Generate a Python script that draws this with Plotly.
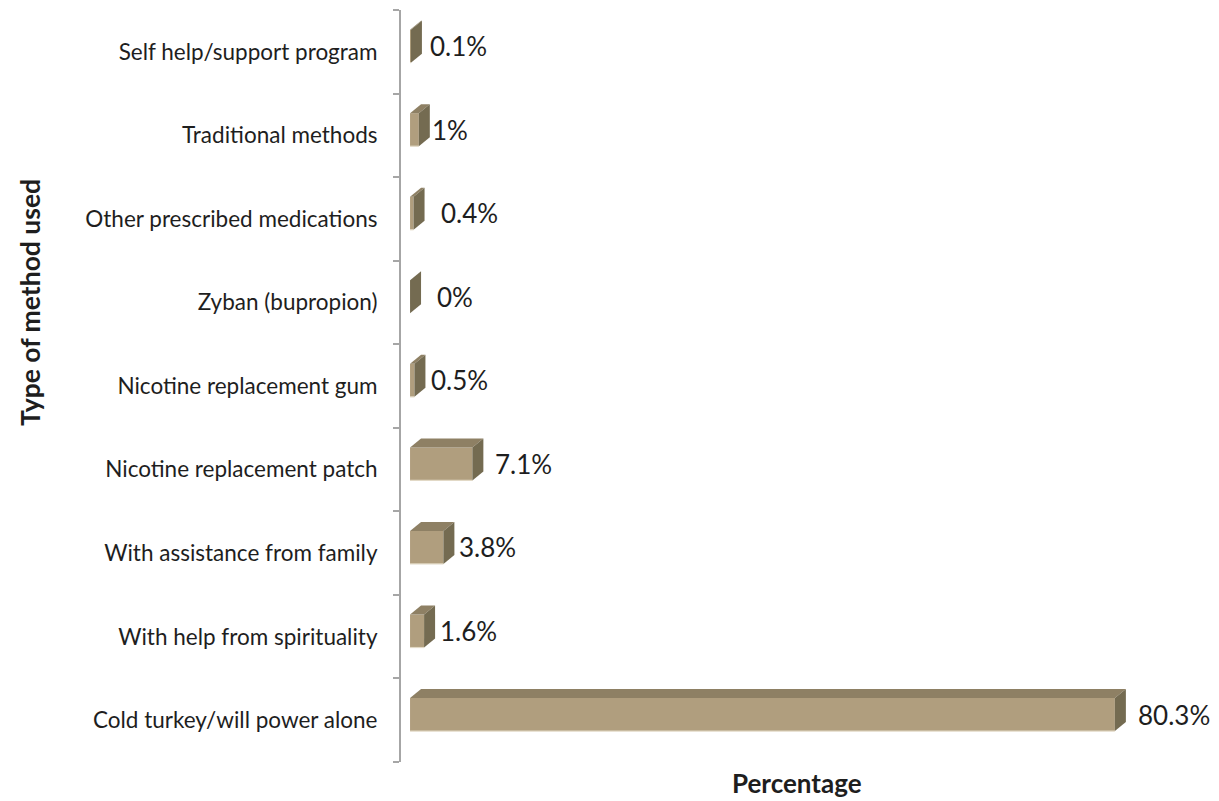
import plotly.graph_objects as go

# Quit methods (bottom to top) and share of respondents using each
methods = [
    "Cold turkey/will power alone",
    "With help from spirituality",
    "With assistance from family",
    "Nicotine replacement patch",
    "Nicotine replacement gum",
    "Zyban (bupropion)",
    "Other prescribed medications",
    "Traditional methods",
    "Self help/support program",
]
percent = [80.3, 1.6, 3.8, 7.1, 0.5, 0, 0.4, 1, 0.1]

# Horizontal gap (px) between each bar's front face and its value label
label_gap_px = [23, 16, 16, 23, 17, 27, 27, 13, 19]

# Layout geometry
W, H = 1219, 801
M_L, M_R, M_T, M_B = 401, 26, 10, 39
X_MIN, X_MAX = -1.03, 89.2
Y_MIN, Y_MAX = -0.5, len(methods) - 0.5
PLOT_W = W - M_L - M_R
PLOT_H = H - M_T - M_B
PX_X = PLOT_W / (X_MAX - X_MIN)
PX_Y = PLOT_H / (Y_MAX - Y_MIN)

# Pseudo-3D box look: depth offset of the top/side faces
DX = 11 / PX_X
DY = 9 / PX_Y
BAR_W = 0.395
BAR_OFF = -0.13

FRONT = "#b09e7e"
TOP = "#8e8064"
SIDE = "#746b51"
EDGE = "#e2d9c6"
TEXT = "#1e1e1e"
AXIS = "#a6a6a6"
FONT = "Lato, Open Sans, sans-serif"


def paper_x(px):
    return (px - M_L) / PLOT_W


def paper_y(px_from_top):
    return (H - M_B - px_from_top) / PLOT_H


fig = go.Figure()
fig.add_trace(go.Bar(
    y=methods, x=percent, orientation="h",
    width=BAR_W, offset=BAR_OFF,
    marker=dict(color=FRONT, line=dict(width=0)),
    hoverinfo="skip", showlegend=False,
))

shapes = []
annotations = []
for i, v in enumerate(percent):
    bot = i + BAR_OFF
    top = bot + BAR_W
    # top face
    shapes.append(dict(
        type="path", xref="x", yref="y", layer="above", line=dict(width=0),
        fillcolor=TOP,
        path=f"M 0,{top} L {DX},{top + DY} L {v + DX},{top + DY} L {v},{top} Z",
    ))
    # right-hand side face
    shapes.append(dict(
        type="path", xref="x", yref="y", layer="above", line=dict(width=0),
        fillcolor=SIDE,
        path=f"M {v},{top} L {v + DX},{top + DY} L {v + DX},{bot + DY} L {v},{bot} Z",
    ))
    # soft highlight along the lower front edge
    if v > 0:
        shapes.append(dict(
            type="line", xref="x", yref="y", layer="above",
            x0=0, x1=v, y0=bot, y1=bot, line=dict(color=EDGE, width=1.2),
        ))
    annotations.append(dict(
        x=v, y=(top + bot) / 2, xref="x", yref="y",
        xanchor="left", yanchor="middle", xshift=label_gap_px[i] - 2,
        showarrow=False,
        text=f"{v:g}%", font=dict(family=FONT, size=26, color=TEXT),
    ))

annotations.append(dict(
    x=paper_x(797), y=paper_y(783), xref="paper", yref="paper", showarrow=False,
    xanchor="center", yanchor="middle",
    text="<b>Percentage</b>", font=dict(family=FONT, size=26, color=TEXT),
))
annotations.append(dict(
    x=paper_x(30), y=paper_y(303), xref="paper", yref="paper", showarrow=False,
    xanchor="center", yanchor="middle", textangle=-90,
    text="<b>Type of method used</b>", font=dict(family=FONT, size=26.5, color=TEXT),
))

fig.update_layout(
    width=W, height=H,
    margin=dict(l=M_L, r=M_R, t=M_T, b=M_B),
    paper_bgcolor="white", plot_bgcolor="white",
    shapes=shapes, annotations=annotations,
    xaxis=dict(range=[X_MIN, X_MAX], showgrid=False, zeroline=False,
               showticklabels=False, showline=False, ticks=""),
    yaxis=dict(range=[Y_MIN, Y_MAX], type="category", showgrid=False,
               zeroline=False, showline=True, linecolor=AXIS, linewidth=2,
               ticks="outside", tickson="boundaries", ticklen=6,
               tickcolor=AXIS, tickwidth=1.5, ticklabelstandoff=17,
               tickfont=dict(family=FONT, size=22.5, color=TEXT)),
)

fig.write_html("out.html")
